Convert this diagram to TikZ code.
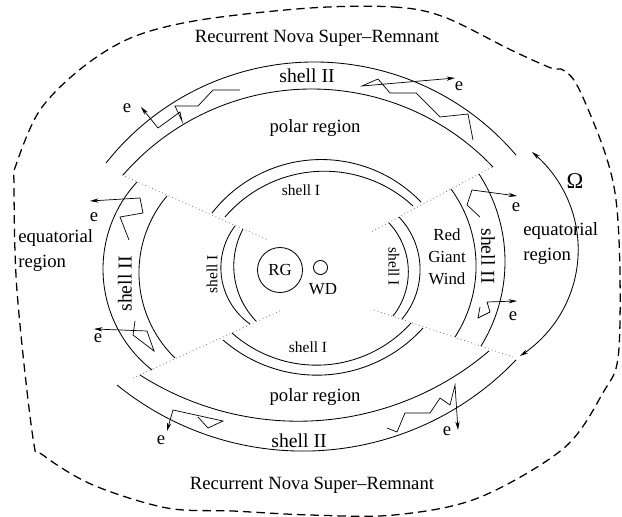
\documentclass[tikz,border=0pt]{standalone}
\usepackage{fontspec}
\setmainfont{Liberation Serif}
\usetikzlibrary{arrows.meta}

% circular arc through three points (pixel coordinates)
\newcommand{\arcthru}[7][]{%
  \pgfmathsetmacro\arcAx{((#2)-(#4))/100}%
  \pgfmathsetmacro\arcAy{((#3)-(#5))/100}%
  \pgfmathsetmacro\arcCx{((#6)-(#4))/100}%
  \pgfmathsetmacro\arcCy{((#7)-(#5))/100}%
  \pgfmathsetmacro\arcA{((\arcAx)*(\arcAx)+(\arcAy)*(\arcAy))/2}%
  \pgfmathsetmacro\arcC{((\arcCx)*(\arcCx)+(\arcCy)*(\arcCy))/2}%
  \pgfmathsetmacro\arcDet{(\arcAx)*(\arcCy)-(\arcAy)*(\arcCx)}%
  \pgfmathsetmacro\arcUx{((\arcA)*(\arcCy)-(\arcAy)*(\arcC))/(\arcDet)}%
  \pgfmathsetmacro\arcUy{((\arcAx)*(\arcC)-(\arcCx)*(\arcA))/(\arcDet)}%
  \pgfmathsetmacro\arcR{100*veclen(\arcUx,\arcUy)}%
  \pgfmathsetmacro\arcTb{atan2(-(\arcUy),-(\arcUx))}%
  \pgfmathsetmacro\arcTa{\arcTb+mod(atan2((\arcAy)-(\arcUy),(\arcAx)-(\arcUx))-(\arcTb)+540,360)-180}%
  \pgfmathsetmacro\arcTc{\arcTb+mod(atan2((\arcCy)-(\arcUy),(\arcCx)-(\arcUx))-(\arcTb)+540,360)-180}%
  \draw[#1] plot[domain=\arcTa:\arcTc, samples=80]
    ({(#4)+100*(\arcUx)+(\arcR)*cos(\x)}, {(#5)+100*(\arcUy)+(\arcR)*sin(\x)});%
}

\tikzset{
  shellline/.style={line width=0.6pt},
  sep/.style={dotted, gray, line width=0.6pt},
  remnant/.style={dash pattern=on 6pt off 3.6pt, line width=0.9pt},
  ray/.style={line width=0.5pt, -{Stealth[length=6pt, width=3pt]}},
  spin/.style={line width=0.6pt, {Stealth[length=6pt, width=3pt]}-{Stealth[length=6pt, width=3pt]}},
  lbl/.style={inner sep=0pt, font=\fontsize{13.3}{17.8}\selectfont},
  lblone/.style={inner sep=0pt, font=\fontsize{11}{13}\selectfont},
  lbltwo/.style={inner sep=0pt, font=\fontsize{14}{16}\selectfont},
  lblsmall/.style={inner sep=0pt, font=\fontsize{12}{15.6}\selectfont},
}

\begin{document}
\begin{tikzpicture}[x=0.025cm, y=-0.025cm]
    \useasboundingbox (0,0) rectangle (622,517);

    % super-remnant boundary
    \draw[remnant] plot[smooth cycle, tension=0.55] coordinates {
        (310,8) (394,7) (444,17) (511,50) (551,68) (563,70) (578,87)
        (604,150) (616,200) (620,275) (618,358) (604,391) (564,448)
        (478,498) (394,515) (310,515) (233,511) (167,508) (93,485)
        (43,455) (33,438) (17,291) (14,185) (16,165) (40,110) (83,67)
        (133,37) (200,20)};

    % polar / equatorial borders
    \draw[sep] (122,175) -- (268,240);
    \draw[sep] (492,167) -- (371,232);
    \draw[sep] (133,378) -- (282,310);
    \draw[sep] (374,310) -- (513,357);

    % shell II
    \arcthru[shellline]{106}{163}{311}{62}{516}{155}
    \arcthru[shellline]{123}{175}{311}{89}{493}{167}
    \arcthru[shellline]{117}{385}{310}{451}{516}{360}
    \arcthru[shellline]{140}{375}{310}{421}{489}{351}
    \arcthru[shellline]{137}{182}{103}{268}{152}{370}
    \arcthru[shellline]{167}{196}{139}{270}{175}{358}
    \arcthru[shellline]{479}{174}{505}{262}{481}{346}
    \arcthru[shellline]{451}{189}{476}{262}{455}{337}

    % shell I
    \arcthru[shellline]{212}{213}{310}{160}{421}{202}
    \arcthru[shellline]{225}{217}{310}{172}{413}{206}
    \arcthru[shellline]{223}{340}{310}{375}{423}{328}
    \arcthru[shellline]{232}{333}{310}{365}{411}{323}
    \arcthru[shellline]{235}{226}{221}{272}{250}{324}
    \arcthru[shellline]{243}{229}{234}{272}{256}{321}
    \arcthru[shellline]{399}{217}{420}{267}{402}{319}
    \arcthru[shellline]{389}{223}{408}{265}{393}{316}

    % rotation
    \arcthru[spin]{532}{152}{578}{257}{520}{356}
    \node[font=\fontsize{16}{18}\selectfont, inner sep=0pt] (omega) at (575,181) {Ω};

    % binary
    \node[circle, draw, line width=0.6pt, minimum size=32pt, inner sep=0pt, font=\fontsize{12}{14}\selectfont] (rg) at (280,270) {RG};
    \node[circle, draw, line width=0.6pt, minimum size=10pt, inner sep=0pt] (wd) at (320.5,267.5) {};
    \node[lblsmall] (wdname) at (323,289) {WD};

    % labels
    \node[lbl] (remtop) at (317,38) {Recurrent Nova Super--Remnant};
    \node[lbl] (rembot) at (312,485) {Recurrent Nova Super--Remnant};
    \node[lbltwo] (s2top) at (307,76) {shell II};
    \node[lbltwo] (s2bot) at (299,441) {shell II};
    \node[lbltwo, rotate=90] (s2left) at (125,284) {shell II};
    \node[lbltwo, rotate=-90] (s2right) at (488,256) {shell II};
    \node[lbl] (poltop) at (315,128) {polar region};
    \node[lbl] (polbot) at (315,397) {polar region};
    \node[lblone] (s1top) at (301,190) {shell I};
    \node[lblone] (s1bot) at (308,347) {shell I};
    \node[lblone, rotate=90] (s1left) at (212,274) {shell I};
    \node[lblone, rotate=-90] (s1right) at (394,267) {shell I};
    \node[lbl, align=left, anchor=west] (eqleft) at (18,251) {equatorial\\region};
    \node[lbl, align=left, anchor=west] (eqright) at (523,244) {equatorial\\region};
    \node[lblsmall, align=center] (wind) at (447,257) {Red\\Giant\\Wind};

    % escaping electrons
    \draw[ray] (240,90) -- (213,90) -- (198,106) -- (175,106) -- (182,121) -- (180,112) -- (158,128) -- (141,107);
    \draw[ray] (473,140) -- (468,114) -- (440,117) -- (416,93) -- (390,93) -- (378,79) -- (362,86) -- (455,78);
    \draw[ray] (129,240) -- (120,217) -- (143,213) -- (140,198) -- (90,201);
    \draw[ray] (135,321) -- (133,335) -- (154,351) -- (147,331) -- (94,329);
    \draw[ray] (198,417) -- (208,428) -- (223,421) -- (173,410) -- (167,431);
    \draw[ray] (387,428) -- (397,432) -- (405,413) -- (430,413) -- (440,398) -- (450,405) -- (455,385) -- (458,430);
    \draw[ray] (480,217) -- (467,205) -- (472,190) -- (517,196);
    \draw[ray] (480,307) -- (478,318) -- (490,312) -- (487,302) -- (517,301);

    \node[lbl] (e1) at (127,108) {e};
    \node[lbl] (e2) at (459,86) {e};
    \node[lbl] (e3) at (94,217) {e};
    \node[lbl] (e4) at (98,338) {e};
    \node[lbl] (e5) at (161,440) {e};
    \node[lbl] (e6) at (447,431) {e};
    \node[lbl] (e7) at (516,207) {e};
    \node[lbl] (e8) at (513,316) {e};
\end{tikzpicture}
\end{document}
